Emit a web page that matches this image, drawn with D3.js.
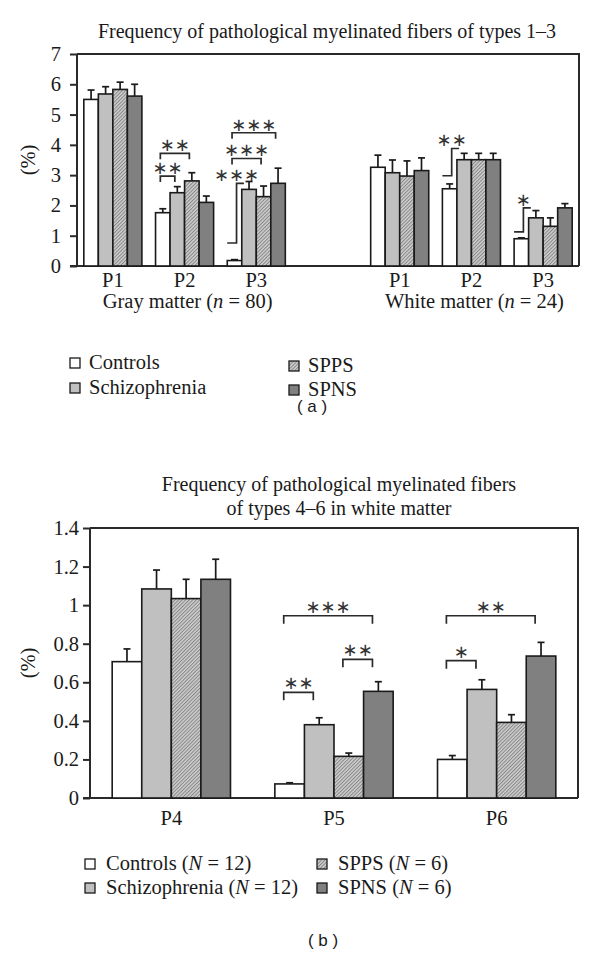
<!DOCTYPE html>
<html><head><meta charset="utf-8">
<script src="https://cdn.jsdelivr.net/npm/d3@7/dist/d3.min.js"></script>
<style>body{margin:0;background:#fff}</style>
</head><body><svg id="c" width="600" height="968"></svg>
<script>
// ---------- DATA ----------
const seriesNames = ["Controls", "Schizophrenia", "SPPS", "SPNS"];

// Panel (a)
const titleA = "Frequency of pathological myelinated fibers of types 1–3";
const categoriesA = ["gP1", "gP2", "gP3", "gap", "wP1", "wP2", "wP3"];
const catLabelsA = ["P1", "P2", "P3", "", "P1", "P2", "P3"];
const groupLabelsA = [["gP2", "Gray matter (", "n", " = 80)"], ["wP2", "White matter (", "n", " = 24)"]];
const controlsA = [5.50, 1.76, 0.18, null, 3.26, 2.55, 0.90];
const schizoA   = [5.68, 2.42, 2.53, null, 3.08, 3.51, 1.59];
const sppsA     = [5.83, 2.81, 2.29, null, 2.97, 3.51, 1.31];
const spnsA     = [5.61, 2.10, 2.73, null, 3.15, 3.51, 1.92];
const controlsErrA = [0.31, 0.13, 0.03, null, 0.40, 0.16, 0.03];
const schizoErrA   = [0.24, 0.20, 0.26, null, 0.42, 0.21, 0.24];
const sppsErrA     = [0.24, 0.27, 0.35, null, 0.50, 0.21, 0.28];
const spnsErrA     = [0.39, 0.21, 0.50, null, 0.42, 0.21, 0.14];
const yTicksA = [0, 1, 2, 3, 4, 5, 6, 7];
const yTickLabelsA = ["0", "1", "2", "3", "4", "5", "6", "7"];
// significance brackets: [category, fromSeries, toSeries, level, stars]
const bracketsA = [
  ["gP2", 0, 1, 2.97, "∗∗"],
  ["gP2", 0, 2, 3.72, "∗∗"],
  ["gP3", 0, 2, 3.55, "∗∗∗"],
  ["gP3", 0, 3, 4.40, "∗∗∗"]
];
// step brackets: [category, fromSeries, toSeries, lowLevel, highLevel, stars]
const stepsA = [
  ["gP3", 0, 1, 0.76, 2.73, "∗∗∗"],
  ["wP2", 0, 1, 2.98, 3.88, "∗∗"],
  ["wP3", 0, 1, 1.13, 1.92, "∗"]
];
const legendA = ["Controls", "Schizophrenia", "SPPS", "SPNS"];

// Panel (b)
const titleB = ["Frequency of pathological myelinated fibers", "of types 4–6 in white matter"];
const categoriesB = ["P4", "P5", "P6"];
const controlsB = [0.707, 0.073, 0.200];
const schizoB   = [1.084, 0.380, 0.563];
const sppsB     = [1.034, 0.216, 0.392];
const spnsB     = [1.134, 0.553, 0.736];
const controlsErrB = [0.066, 0.006, 0.020];
const schizoErrB   = [0.098, 0.036, 0.050];
const sppsErrB     = [0.100, 0.017, 0.040];
const spnsErrB     = [0.104, 0.050, 0.071];
const yTicksB = [0, 0.2, 0.4, 0.6, 0.8, 1, 1.2, 1.4];
const yTickLabelsB = ["0", "0.2", "0.4", "0.6", "0.8", "1", "1.2", "1.4"];
const bracketsB = [
  ["P5", 0, 1, 0.548, "∗∗"],
  ["P5", 0, 3, 0.945, "∗∗∗"],
  ["P5", 2, 3, 0.719, "∗∗"],
  ["P6", 0, 1, 0.712, "∗"],
  ["P6", 0, 3, 0.945, "∗∗"]
];
const legendB = [["Controls (", "N", " = 12)"], ["Schizophrenia (", "N", " = 12)"], ["SPPS (", "N", " = 6)"], ["SPNS (", "N", " = 6)"]];

// ---------- STYLE ----------
const SERIF = "'Liberation Serif', 'Times New Roman', serif";
const SANS = "'Liberation Sans', Arial, sans-serif";
const STAR = "'DejaVu Sans', sans-serif";
const fills = ["#ffffff", "#c0c0c0", "url(#hatch)", "#808080"];
const INK = "#1a1a1a";
const FS = 20.5;

const svg = d3.select("#c");
const defs = svg.append("defs");
const pat = defs.append("pattern").attr("id", "hatch").attr("patternUnits", "userSpaceOnUse")
  .attr("width", 2.5).attr("height", 2.5).attr("patternTransform", "rotate(45)");
pat.append("rect").attr("width", 2.5).attr("height", 2.5).attr("fill", "#cfcfcf");
pat.append("line").attr("x1", 0.5).attr("y1", 0).attr("x2", 0.5).attr("y2", 2.5)
  .attr("stroke", "#858585").attr("stroke-width", 1);

function drawPanel(cfg) {
  const g = svg.append("g");
  const x = d3.scaleBand().domain(cfg.categories).range([cfg.left, cfg.right]).padding(0);
  const xs = d3.scaleBand().domain(d3.range(4)).range([0, x.bandwidth()]).paddingInner(0).paddingOuter(cfg.outer);
  const y = d3.scaleLinear().domain(cfg.domain).range([cfg.bottom, cfg.top]);

  // frame top & right
  g.append("path")
    .attr("d", `M${cfg.left},${cfg.top}H${cfg.right}V${cfg.bottom}`)
    .attr("fill", "none").attr("stroke", "#2a2a2a").attr("stroke-width", 2);

  // y axis
  const ya = g.append("g").attr("transform", `translate(${cfg.left},0)`)
    .call(d3.axisLeft(y).tickValues(cfg.yTicks).tickFormat((d, i) => cfg.yTickLabels[i])
      .tickSize(7).tickPadding(cfg.tickPad));
  ya.select(".domain").attr("stroke", "#2a2a2a").attr("stroke-width", 2).attr("d", `M0,${cfg.top}V${cfg.bottom}`);
  ya.selectAll(".tick line").attr("stroke", "#2a2a2a").attr("stroke-width", 2);
  ya.selectAll(".tick text").attr("font-family", SERIF).attr("font-size", FS).attr("fill", INK);

  // baseline
  g.append("line").attr("x1", cfg.left - 7).attr("x2", cfg.right).attr("y1", y(0)).attr("y2", y(0))
    .attr("stroke", "#2a2a2a").attr("stroke-width", 2);

  // x labels via bottom axis (no ticks)
  const xa = g.append("g").attr("transform", `translate(0,${y(0)})`)
    .call(d3.axisBottom(x).tickSize(0).tickPadding(cfg.xPad).tickFormat((d, i) => cfg.catLabels[i]));
  xa.select(".domain").remove();
  xa.selectAll(".tick text").attr("font-family", SERIF).attr("font-size", FS).attr("fill", INK);

  // bars
  const barX = (c, s) => x(c) + xs(s);
  const bw = xs.bandwidth();
  cfg.series.forEach((vals, s) => {
    cfg.categories.forEach((c, i) => {
      const v = vals[i];
      if (v == null) return;
      const e = cfg.errs[s][i];
      const cx = barX(c, s) + bw / 2;
      g.append("line").attr("x1", cx).attr("x2", cx).attr("y1", y(v)).attr("y2", y(v + e))
        .attr("stroke", INK).attr("stroke-width", 1.7);
      g.append("line").attr("x1", cx - cfg.cap / 2).attr("x2", cx + cfg.cap / 2).attr("y1", y(v + e)).attr("y2", y(v + e))
        .attr("stroke", INK).attr("stroke-width", 1.7);
      g.append("rect").attr("x", barX(c, s)).attr("y", y(v)).attr("width", bw).attr("height", y(0) - y(v))
        .attr("fill", fills[s]).attr("stroke", INK).attr("stroke-width", 1.6);
    });
  });

  // brackets
  const bStroke = "#2a2a2a";
  cfg.brackets.forEach(([c, a, b, lv, stars]) => {
    const xa0 = barX(c, a) + cfg.frac * bw, xb0 = barX(c, b) + cfg.frac * bw;
    const yy = y(lv);
    g.append("path").attr("d", `M${xa0},${yy + cfg.drop}V${yy}H${xb0}V${yy + cfg.drop}`)
      .attr("fill", "none").attr("stroke", bStroke).attr("stroke-width", 1.7);
    g.append("text").attr("x", (xa0 + xb0) / 2).attr("y", yy - cfg.starGap).attr("text-anchor", "middle")
      .attr("font-family", STAR).attr("font-size", cfg.starSize).attr("fill", "#333").text(stars);
  });
  (cfg.steps || []).forEach(([c, a, b, lo, hi, stars]) => {
    const x0 = barX(c, a), xm = barX(c, a) + 0.64 * bw, x2 = barX(c, b) + 0.15 * bw;
    g.append("path").attr("d", `M${x0},${y(lo)}H${xm}V${y(hi)}H${x2}`)
      .attr("fill", "none").attr("stroke", bStroke).attr("stroke-width", 1.7);
    g.append("text").attr("x", xm).attr("y", y(hi) - cfg.starGap).attr("text-anchor", "middle")
      .attr("font-family", STAR).attr("font-size", cfg.starSize).attr("fill", "#333").text(stars);
  });

  // y label
  g.append("text").attr("transform", `translate(${cfg.ylabX},${(cfg.top + cfg.bottom) / 2}) rotate(-90)`)
    .attr("text-anchor", "middle").attr("dominant-baseline", "central")
    .attr("font-family", SERIF).attr("font-size", FS).attr("fill", INK).text("(%)");
  return {x, y};
}

// ---------- PANEL A ----------
const pA = drawPanel({
  categories: categoriesA, catLabels: catLabelsA, domain: [0, 7],
  left: 77, right: 579, top: 54, bottom: 266, outer: 0.47,
  yTicks: yTicksA, yTickLabels: yTickLabelsA, tickPad: 9, xPad: 6,
  series: [controlsA, schizoA, sppsA, spnsA],
  errs: [controlsErrA, schizoErrA, sppsErrA, spnsErrA],
  brackets: bracketsA, steps: stepsA, frac: 0.33, drop: 6, starGap: 2, starSize: 18, cap: 7, ylabX: 28
});
svg.append("text").attr("x", 327).attr("y", 38).attr("text-anchor", "middle")
  .attr("font-family", SERIF).attr("font-size", 20).attr("fill", INK).text(titleA);
groupLabelsA.forEach(([c, a, it, b]) => {
  const t = svg.append("text").attr("x", pA.x(c) + pA.x.bandwidth() / 2 + 3).attr("y", 308)
    .attr("text-anchor", "middle").attr("font-family", SERIF).attr("font-size", FS).attr("fill", INK);
  t.append("tspan").text(a);
  t.append("tspan").attr("font-style", "italic").text(it);
  t.append("tspan").text(b);
});

function legendSwatch(x0, y0, s) {
  svg.append("rect").attr("x", x0).attr("y", y0 - 5).attr("width", 10).attr("height", 10)
    .attr("fill", fills[s]).attr("stroke", INK).attr("stroke-width", 1.3);
}
// legend A
const legPosA = [[70, 363], [70, 388], [289, 366], [289, 390]];
legendA.forEach((name, i) => {
  const [lx, ly] = legPosA[i];
  legendSwatch(lx, ly, i);
  svg.append("text").attr("x", lx + 19).attr("y", ly + 6).attr("font-family", SERIF).attr("font-size", FS)
    .attr("fill", INK).text(name);
});
svg.append("text").attr("x", 312).attr("y", 412).attr("text-anchor", "middle").attr("font-family", SANS)
  .attr("font-size", 17).attr("fill", INK).attr("xml:space", "preserve").text("( a )");

// ---------- PANEL B ----------
drawPanel({
  categories: categoriesB, catLabels: categoriesB, domain: [0, 1.4],
  left: 90, right: 578, top: 528, bottom: 798, outer: 0.75,
  yTicks: yTicksB, yTickLabels: yTickLabelsB, tickPad: 4, xPad: 12,
  series: [controlsB, schizoB, sppsB, spnsB],
  errs: [controlsErrB, schizoErrB, sppsErrB, spnsErrB],
  brackets: bracketsB, frac: 0.3, drop: 8, starGap: 3, starSize: 18, cap: 7, ylabX: 28
});
titleB.forEach((line, i) => {
  svg.append("text").attr("x", 339).attr("y", 491 + i * 24).attr("text-anchor", "middle")
    .attr("font-family", SERIF).attr("font-size", 20).attr("fill", INK).text(line);
});
const legPosB = [[85, 864], [85, 888], [317, 864], [317, 888]];
legendB.forEach(([a, it, b], i) => {
  const [lx, ly] = legPosB[i];
  legendSwatch(lx, ly, i);
  const t = svg.append("text").attr("x", lx + 21).attr("y", ly + 6).attr("font-family", SERIF).attr("font-size", FS)
    .attr("fill", INK);
  t.append("tspan").text(a);
  t.append("tspan").attr("font-style", "italic").text(it);
  t.append("tspan").text(b);
});
svg.append("text").attr("x", 323).attr("y", 946).attr("text-anchor", "middle").attr("font-family", SANS)
  .attr("font-size", 17).attr("fill", INK).attr("xml:space", "preserve").text("( b )");
</script>
</body></html>
